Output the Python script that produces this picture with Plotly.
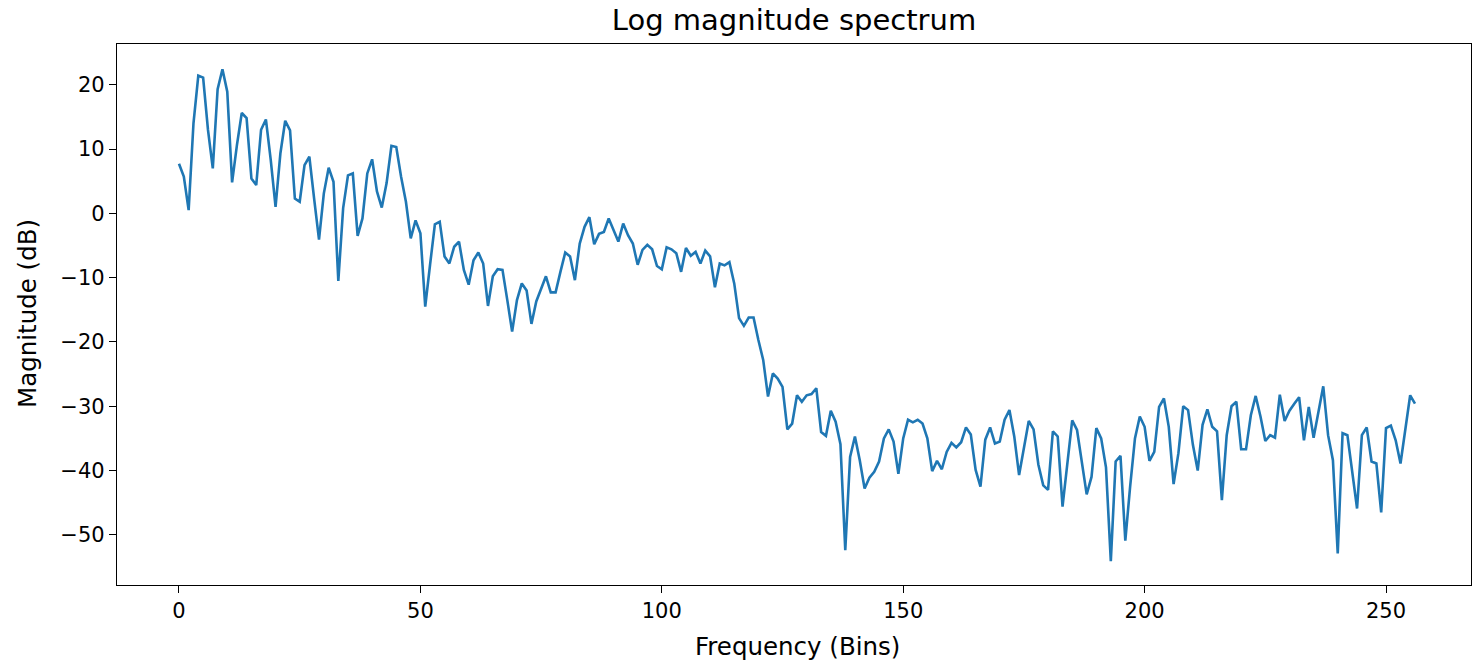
import plotly.graph_objects as go

bins = list(range(257))

magnitude_db = [
    7.7, 5.7, 0.5, 14.0, 21.4, 21.1, 13.0, 7.0, 19.3, 22.4,
    18.9, 4.8, 10.6, 15.6, 14.8, 5.4, 4.4, 13.0, 14.6, 8.3,
    1.0, 9.3, 14.4, 12.9, 2.3, 1.8, 7.5, 8.8, 2.2, -4.1,
    3.1, 7.1, 4.9, -10.5, 0.8, 5.9, 6.2, -3.5, -0.8, 6.2,
    8.4, 3.4, 0.9, 4.7, 10.5, 10.3, 5.7, 1.8, -3.9, -1.1,
    -3.1, -14.5, -8.0, -1.7, -1.3, -6.7, -7.8, -5.2, -4.4, -8.8,
    -11.1, -7.3, -6.1, -7.8, -14.4, -9.8, -8.7, -8.8, -13.5, -18.4,
    -13.5, -10.9, -12.0, -17.2, -13.7, -11.7, -9.8, -12.3, -12.3, -9.1,
    -6.1, -6.7, -10.4, -4.7, -2.1, -0.6, -4.8, -3.2, -2.9, -0.8,
    -2.5, -4.4, -1.6, -3.4, -4.7, -8.0, -5.7, -4.9, -5.6, -8.2,
    -8.7, -5.3, -5.6, -6.2, -9.1, -5.4, -6.6, -6.0, -7.8, -5.8,
    -6.7, -11.5, -7.8, -8.1, -7.6, -10.9, -16.3, -17.5, -16.2, -16.2,
    -19.7, -22.8, -28.5, -24.9, -25.7, -27.0, -33.6, -32.7, -28.3, -29.3,
    -28.3, -28.1, -27.2, -34.0, -34.6, -30.7, -32.4, -35.9, -52.4, -37.9,
    -34.7, -38.4, -42.8, -41.1, -40.2, -38.6, -35.0, -33.6, -35.5, -40.5,
    -35.0, -32.1, -32.5, -32.1, -32.7, -35.0, -40.1, -38.5, -39.8, -37.1,
    -35.7, -36.4, -35.6, -33.3, -34.4, -39.9, -42.5, -35.2, -33.3, -35.8,
    -35.5, -32.1, -30.6, -34.7, -40.7, -36.6, -32.3, -33.6, -39.1, -42.3,
    -43.0, -33.9, -34.7, -45.6, -38.6, -32.2, -33.7, -38.8, -43.7, -41.0,
    -33.4, -35.0, -39.5, -54.1, -38.6, -37.7, -50.9, -42.5, -35.0, -31.6,
    -33.2, -38.5, -37.1, -30.1, -28.8, -33.2, -42.1, -37.3, -30.0, -30.6,
    -36.0, -40.0, -32.9, -30.5, -33.2, -33.9, -44.6, -34.5, -30.0, -29.3,
    -36.7, -36.7, -31.4, -28.4, -31.6, -35.4, -34.5, -34.9, -28.2, -32.3,
    -30.7, -29.6, -28.6, -35.3, -30.1, -34.9, -30.6, -26.9, -34.5, -38.4,
    -52.9, -34.2, -34.5, -39.9, -45.9, -34.5, -33.3, -38.6, -38.9, -46.5,
    -33.4, -33.0, -35.3, -38.9, -33.4, -28.3, -29.6,
]

x_ticks = [0, 50, 100, 150, 200, 250]
y_ticks = [-50, -40, -30, -20, -10, 0, 10, 20]

FONT = "DejaVu Sans"

fig = go.Figure()
fig.add_trace(go.Scatter(
    x=bins, y=magnitude_db, mode="lines",
    line=dict(color="#1f77b4", width=2.6),
    showlegend=False,
))

axis_common = dict(
    showgrid=False, zeroline=False,
    showline=True, linecolor="black", linewidth=1.3, mirror=True,
    ticks="outside", ticklen=7, tickwidth=1.3, tickcolor="black",
    tickfont=dict(family=FONT, size=21, color="black"),
)

fig.update_layout(
    width=1472, height=663,
    margin=dict(l=117, r=1, t=44, b=78),
    paper_bgcolor="white", plot_bgcolor="white",
    font=dict(family=FONT, color="black"),
    title=dict(text="Log magnitude spectrum", x=0.5, xref="paper",
               y=1 - 20 / 663, yref="container", yanchor="middle", xanchor="center",
               font=dict(family=FONT, size=29, color="black")),
    xaxis=dict(range=[-12.84, 267.6], tickvals=x_ticks, **axis_common),
    yaxis=dict(range=[-57.8, 26.33], tickvals=y_ticks, **axis_common),
    annotations=[
        dict(text="Frequency (Bins)", xref="paper", yref="paper",
             x=(797 - 117) / 1354, y=(585 - 646) / 541,
             xanchor="center", yanchor="middle", showarrow=False,
             font=dict(family=FONT, size=24.5, color="black")),
        dict(text="Magnitude (dB)", xref="paper", yref="paper",
             x=(27 - 117) / 1354, y=(585 - 314) / 541, textangle=-90,
             xanchor="center", yanchor="middle", showarrow=False,
             font=dict(family=FONT, size=24.5, color="black")),
    ],
)

fig.write_html("out.html")
